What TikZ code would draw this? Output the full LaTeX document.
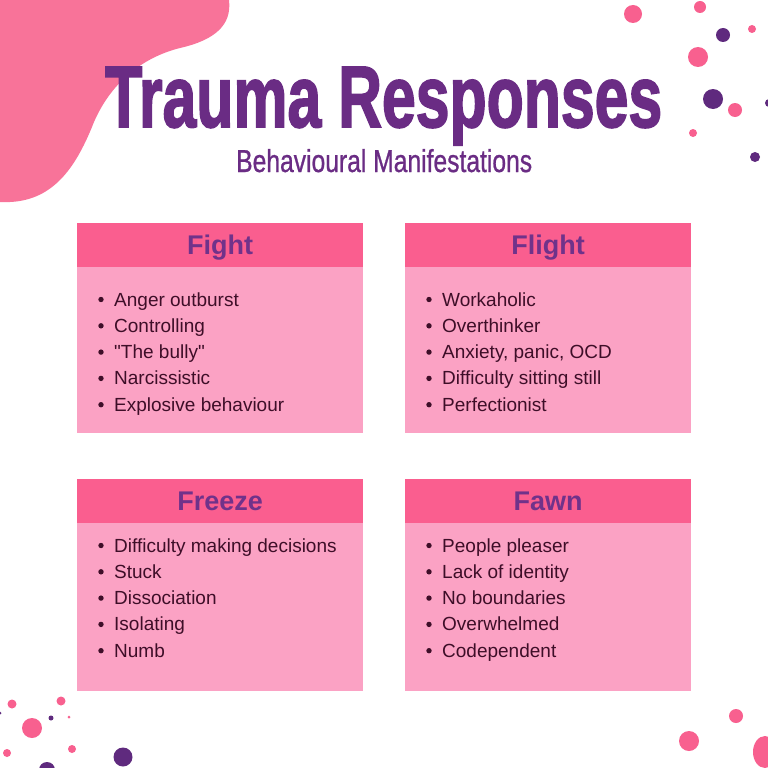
\documentclass[tikz,border=0pt]{standalone}
\usepackage{fontspec}
\usepackage{graphicx}
\setmainfont{Liberation Sans}
\newfontfamily\plainfont{Liberation Sans}
\newfontfamily\titlefont[FakeBold=2.2]{Liberation Sans Bold}
\newfontfamily\subfont[FakeBold=0.9]{Liberation Sans}
\definecolor{titlepurple}{HTML}{6A2C84}
\definecolor{headpurple}{HTML}{70328A}
\definecolor{blobpink}{HTML}{F87399}
\definecolor{dotpink}{HTML}{F8608F}
\definecolor{dotpurple}{HTML}{5F2A7E}
\definecolor{headpink}{HTML}{FA5E8F}
\definecolor{bodypink}{HTML}{FBA2C4}
\definecolor{itemtext}{HTML}{3E0E28}
\begin{document}
\begin{tikzpicture}[x=1pt,y=-1pt,
  headbox/.style={rectangle, fill=headpink, inner sep=0, minimum width=286pt, minimum height=44pt,
     anchor=north west, text=headpurple, font=\fontsize{27}{30}\selectfont\bfseries,
     text height=19.5pt, text depth=0pt},
  bodybox/.style={rectangle, fill=bodypink, inner sep=0, minimum width=286pt, anchor=north west},
  itemtxt/.style={anchor=base west, inner sep=0, text=itemtext, font=\fontsize{19}{22}\selectfont},
  bul/.style={fill=itemtext},
  pdot/.style={fill=dotpink},
  udot/.style={fill=dotpurple}]
\useasboundingbox (0,0) rectangle (768,768);
\fill[white] (0,0) rectangle (768,768);
\begin{scope}
\clip (0,0) rectangle (768,768);
% blob
\fill[blobpink] (0,0) -- (229,0) .. controls (232,25) and (215,40) .. (180,48)
  .. controls (140,58) and (110,85) .. (94,122)
  .. controls (77,165) and (55,200) .. (10,202) -- (0,202) -- cycle;
% top-right dots
\fill[pdot] (633,14) circle (9);
\fill[pdot] (700,7) circle (6);
\fill[udot] (723,35) circle (7);
\fill[pdot] (752,29) circle (4);
\fill[pdot] (698,57) circle (10);
\fill[udot] (713,99) circle (10);
\fill[pdot] (735,110) circle (7);
\fill[udot] (769,103) circle (4);
\fill[pdot] (693,133) circle (4);
\fill[udot] (755,157) circle (5);
% bottom-left dots
\fill[pdot] (12,704) circle (4.5);
\fill[pdot] (61,701) circle (4.5);
\fill[udot] (51,718) circle (2.5);
\fill[pdot] (69,717) circle (1.5);
\fill[udot] (0,713) circle (1.5);
\fill[pdot] (32,728) circle (10);
\fill[pdot] (7,753) circle (4);
\fill[pdot] (72,749) circle (4);
\fill[udot] (47,770) circle (8);
\fill[udot] (123,757) circle (9.5);
% bottom-right dots
\fill[pdot] (736,716) circle (7);
\fill[pdot] (689,741) circle (10);
\fill[pdot] (765,752) ellipse (12 and 16);
\end{scope}
% titles
\node[anchor=base west, inner sep=0, text=titlepurple] (title) at (105,127)
  {\resizebox{557pt}{60pt}{\titlefont Trauma Responses}};
\node[anchor=base west, inner sep=0, text=titlepurple] (subtitle) at (236,172)
  {\resizebox{296pt}{23pt}{\subfont Behavioural Manifestations}};
% boxes
\node[bodybox, minimum height=166pt] (fightbody) at (77,267) {};
\node[headbox] (fighthead) at (77,223) {Fight};
\node[bodybox, minimum height=166pt] (flightbody) at (405,267) {};
\node[headbox] (flighthead) at (405,223) {Flight};
\node[bodybox, minimum height=168pt] (freezebody) at (77,523) {};
\node[headbox] (freezehead) at (77,479) {Freeze};
\node[bodybox, minimum height=168pt] (fawnbody) at (405,523) {};
\node[headbox] (fawnhead) at (405,479) {Fawn};
% items
\foreach \t [count=\i from 0] in {Anger outburst, Controlling, {\plainfont "The bully"}, Narcissistic, Explosive behaviour}{
  \fill[bul] (101,306+\i*26.3-6.5) circle (2.7);
  \node[itemtxt] (fight\i) at (114,306+\i*26.3) {\t};
}
\foreach \t [count=\i from 0] in {Workaholic, Overthinker, {Anxiety, panic, OCD}, Difficulty sitting still, Perfectionist}{
  \fill[bul] (429,306+\i*26.3-6.5) circle (2.7);
  \node[itemtxt] (flight\i) at (442,306+\i*26.3) {\t};
}
\foreach \t [count=\i from 0] in {Difficulty making decisions, Stuck, Dissociation, Isolating, Numb}{
  \fill[bul] (101,552+\i*26.3-6.5) circle (2.7);
  \node[itemtxt] (freeze\i) at (114,552+\i*26.3) {\t};
}
\foreach \t [count=\i from 0] in {People pleaser, Lack of identity, No boundaries, Overwhelmed, Codependent}{
  \fill[bul] (429,552+\i*26.3-6.5) circle (2.7);
  \node[itemtxt] (fawn\i) at (442,552+\i*26.3) {\t};
}
\end{tikzpicture}
\end{document}
